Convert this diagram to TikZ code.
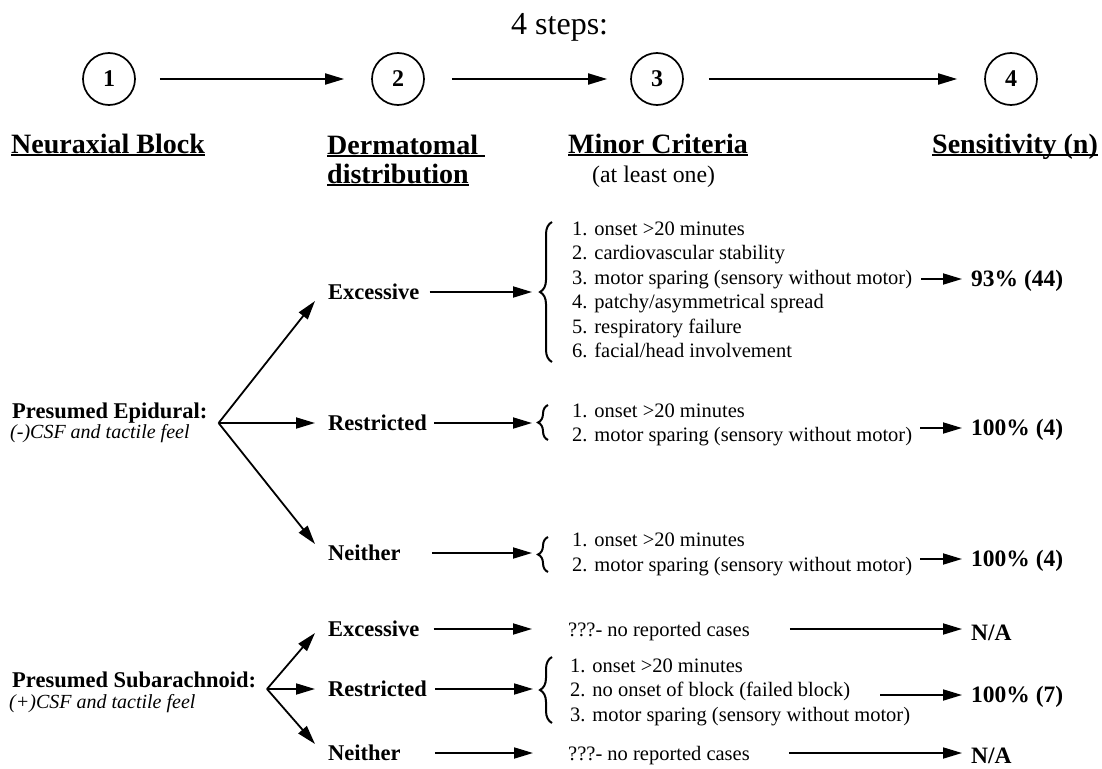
\documentclass[tikz,border=0pt]{standalone}
\usepackage{fontspec}
\setmainfont{Liberation Serif}
\usetikzlibrary{arrows.meta,decorations.pathreplacing}
\newcommand\hul[1]{\setbox0\hbox{#1}\rlap{\vrule height -1pt depth 3pt width \wd0}\box0}
\begin{document}
\begin{tikzpicture}[x=1pt,y=-1pt,
  arr/.style={line width=1.8pt,-{Triangle[length=19pt,width=11pt]}},
  stp/.style={circle,draw,line width=1.7pt,minimum size=52pt,inner sep=0pt,font=\bfseries\fontsize{24}{28}\selectfont},
  hdr/.style={anchor=base west,inner sep=0pt,font=\bfseries\fontsize{28}{32}\selectfont},
  lab/.style={anchor=west,inner sep=0pt,text height=15pt,text depth=0pt,font=\bfseries\fontsize{22.5}{27}\selectfont},
  res/.style={anchor=west,inner sep=0pt,text height=15.5pt,text depth=0pt,font=\bfseries\fontsize{23.5}{28}\selectfont},
  txt/.style={anchor=west,inner sep=0pt,text height=14pt,text depth=0pt,font=\fontsize{20.5}{24.5}\selectfont},
  lst/.style={anchor=west,inner sep=0pt,align=left,font=\fontsize{20.5}{24.5}\selectfont},
  brc/.style={decorate,decoration={brace,amplitude=#1},line width=2pt},
  cond/.style={anchor=base west,inner sep=0pt,font=\bfseries\fontsize{22.5}{27}\selectfont},
  condi/.style={anchor=base west,inner sep=0pt,font=\itshape\fontsize{20}{24}\selectfont},
]
\useasboundingbox (0,0) rectangle (1102,768);

% title and steps
\node[anchor=base west,inner sep=0pt,font=\fontsize{32}{36}\selectfont] (title) at (511,35) {4 steps:};
\node[stp] (c1) at (109,79) {1};
\node[stp] (c2) at (398,79) {2};
\node[stp] (c3) at (657,79) {3};
\node[stp] (c4) at (1011,79) {4};
\draw[arr] ([xshift=24pt]c1.east) -- ([xshift=-27pt]c2.west);
\draw[arr] ([xshift=27pt]c2.east) -- ([xshift=-23pt]c3.west);
\draw[arr] ([xshift=25pt]c3.east) -- ([xshift=-27pt]c4.west);

% headers
\node[hdr] (h1) at (11,153) {\hul{Neuraxial Block}};
\node[hdr] (h2) at (327,154) {\hul{Dermatomal\ }};
\node[hdr] (h2b) at (327,183) {\hul{distribution}};
\node[hdr] (h3) at (568,153) {\hul{Minor Criteria}};
\node[anchor=base west,inner sep=0pt,font=\fontsize{23.8}{28}\selectfont] (h3b) at (592,182) {(at least one)};
\node[hdr] (h4) at (932,153) {\hul{Sensitivity (n)}};

% presumed epidural
\node[cond] (pe) at (12,418) {Presumed Epidural:};
\node[condi] (pei) at (10,438) {(-)CSF and tactile feel};
\coordinate (f1) at (218.6,423);

\node[lab] (e1) at (328,292) {Excessive};
\node[lab] (e2) at (328,423) {Restricted};
\node[lab] (e3) at (328,553) {Neither};
\draw[arr] (f1) -- ([xshift=-13pt,yshift=-9pt]e1.west);
\draw[arr] (f1) -- ([xshift=-13pt]e2.west);
\draw[arr] (f1) -- ([xshift=-13pt,yshift=9pt]e3.west);

\node[lst] (l1) at (572,291.6) {\strut 1. onset >20 minutes\\\strut 2. cardiovascular stability\\\strut 3. motor sparing (sensory without motor)\\\strut 4. patchy/asymmetrical spread\\\strut 5. respiratory failure\\\strut 6. facial/head involvement};
\node[lst] (l2) at (572,424.6) {\strut 1. onset >20 minutes\\\strut 2. motor sparing (sensory without motor)};
\node[lst] (l3) at (572,554) {\strut 1. onset >20 minutes\\\strut 2. motor sparing (sensory without motor)};

\draw[brc=12pt] ([xshift=-20pt,yshift=-70.4pt]l1.west) -- ([xshift=-20pt,yshift=69.6pt]l1.west);
\draw[brc=10pt] ([xshift=-24pt,yshift=-15.4pt]l2.west) -- ([xshift=-24pt,yshift=19.6pt]l2.west);
\draw[brc=10pt] ([xshift=-24pt,yshift=-18pt]l3.west) -- ([xshift=-24pt,yshift=17pt]l3.west);
\coordinate (bt1) at ([xshift=-40pt]l1.west);
\coordinate (bt2) at ([xshift=-40pt]l2.west);
\coordinate (bt3) at ([xshift=-40pt]l3.west);
\draw[arr] ([xshift=10pt]e1.east) -- (e1 -| bt1);
\draw[arr] ([xshift=7pt]e2.east) -- (e2 -| bt2);
\draw[arr] ([xshift=31pt]e3.east) -- (e3 -| bt3);

\node[res] (r1) at (971,279) {93\% (44)};
\node[res] (r2) at (971,428) {100\% (4)};
\node[res] (r3) at (971,559) {100\% (4)};
\draw[arr] ([xshift=9pt]l1.east |- r1.west) -- ([xshift=-9pt]r1.west);
\draw[arr] ([xshift=8pt]l2.east |- r2.west) -- ([xshift=-9pt]r2.west);
\draw[arr] ([xshift=8pt]l3.east |- r3.west) -- ([xshift=-9pt]r3.west);

% presumed subarachnoid
\node[cond] (ps) at (12,687) {Presumed Subarachnoid:};
\node[condi] (psi) at (9,708) {(+)CSF and tactile feel};
\coordinate (f2) at (267,689);

\node[lab] (e4) at (328,629) {Excessive};
\node[lab] (e5) at (328,689) {Restricted};
\node[lab] (e6) at (328,753) {Neither};
\draw[arr] (f2) -- ([xshift=-13pt,yshift=-4pt]e4.west);
\draw[arr] (f2) -- ([xshift=-13pt]e5.west);
\draw[arr] (f2) -- ([xshift=-13pt,yshift=9pt]e6.west);

\node[txt] (n1) at (568,629) {???- no reported cases};
\node[txt] (n2) at (568,753) {???- no reported cases};
\node[res] (na1) at (971,633) {N/A};
\node[res] (na2) at (971,756) {N/A};
\draw[arr] ([xshift=14pt]e4.east) -- ([xshift=-36pt]n1.west);
\draw[arr] ([xshift=34pt]e6.east) -- ([xshift=-35pt]n2.west);
\draw[arr] ([xshift=40pt]n1.east) -- ([xshift=-9pt]na1.west |- n1.east);
\draw[arr] ([xshift=39pt]n2.east) -- ([xshift=-9pt]na2.west |- n2.east);

\node[lst] (s1) at (570,691.6) {\strut 1. onset >20 minutes\\\strut 2. no onset of block (failed block)\\\strut 3. motor sparing (sensory without motor)};
\draw[brc=12pt] ([xshift=-18pt,yshift=-31.4pt]s1.west) -- ([xshift=-18pt,yshift=34.6pt]s1.west);
\coordinate (bt5) at ([xshift=-37pt]s1.west);
\draw[arr] ([xshift=8pt]e5.east) -- (e5 -| bt5);
\node[res] (r7) at (971,695) {100\% (7)};
\draw[arr] ([xshift=-30pt]s1.east |- r7.west) -- ([xshift=-9pt]r7.west);
\end{tikzpicture}
\end{document}
